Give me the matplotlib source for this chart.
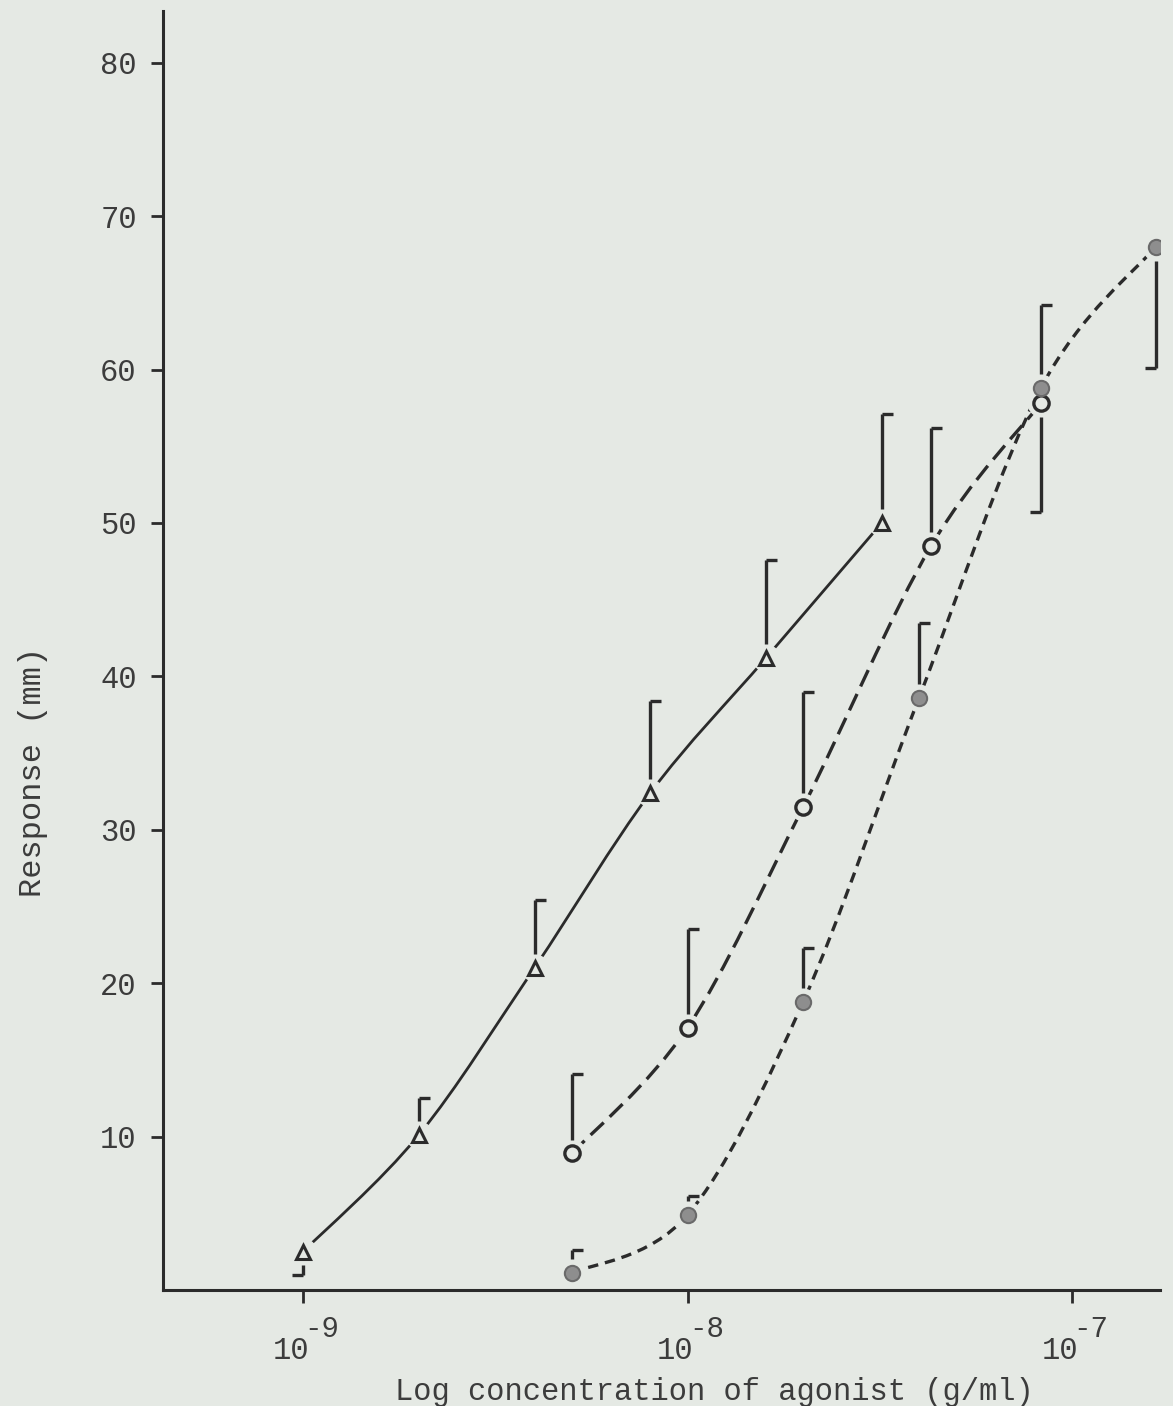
import numpy as np
import matplotlib
matplotlib.use('Agg')
import matplotlib.pyplot as plt
from matplotlib.path import Path
from matplotlib.patches import PathPatch
from matplotlib.ticker import FixedLocator, NullLocator

# values
# triangles, solid curve
conc_tri = [1e-9, 2e-9, 4e-9, 8e-9, 1.6e-8, 3.2e-8]
resp_tri = [2.5, 10.1, 21.0, 32.4, 41.2, 50.0]
err_tri = [-1.5, 2.4, 4.4, 6.0, 6.4, 7.1]   # +: bar drawn up, -: bar drawn down

# open circles, long dashes
conc_open = [5e-9, 1e-8, 2e-8, 4.3e-8, 8.3e-8]
resp_open = [8.9, 17.1, 31.5, 48.5, 57.8]
err_open = [5.2, 6.4, 7.5, 7.7, -7.1]

# filled circles, short dashes
conc_fill = [5e-9, 1e-8, 2e-8, 4e-8, 8.3e-8, 1.65e-7]
resp_fill = [1.1, 4.9, 18.8, 38.6, 58.8, 68.0]
err_fill = [1.5, 1.2, 3.5, 4.9, 5.4, -7.9]

yticks = [10, 20, 30, 40, 50, 60, 70, 80]
xticks = [1e-9, 1e-8, 1e-7]
xtick_exps = ['-9', '-8', '-7']

BG = '#e5e9e4'
INK = '#2b2b2b'
TXT = '#3c3c3c'

plt.rcParams['font.family'] = ['Liberation Mono', 'DejaVu Sans Mono']
plt.rcParams['lines.scale_dashes'] = False


def smooth_path(xs, ys):
    # catmull-rom through the points in log-x space, as cubic bezier segments
    lx = np.log10(xs)
    y = np.asarray(ys, float)
    p = np.column_stack([lx, y])
    n = len(p)
    verts = [p[0]]
    codes = [Path.MOVETO]
    for i in range(n - 1):
        p0 = p[i - 1] if i > 0 else p[i]
        p1 = p[i]
        p2 = p[i + 1]
        p3 = p[i + 2] if i + 2 < n else p[i + 1]
        c1 = p1 + (p2 - p0) / 6.0
        c2 = p2 - (p3 - p1) / 6.0
        verts += [c1, c2, p2]
        codes += [Path.CURVE4] * 3
    verts = np.array(verts)
    verts[:, 0] = 10 ** verts[:, 0]
    return Path(verts, codes)


tick_r = Path([[0, 0], [1, 0]], [Path.MOVETO, Path.LINETO])
tick_l = Path([[0, 0], [-1, 0]], [Path.MOVETO, Path.LINETO])


def error_bars(ax, xs, ys, errs, gap=0.9):
    for x, y, e in zip(xs, ys, errs):
        s = 1 if e > 0 else -1
        ax.vlines(x, y + s * gap, y + e, color=INK, lw=2.4, zorder=5)
        ax.plot([x], [y + e], marker=tick_r if s > 0 else tick_l, ms=16,
                mew=2.4, color=INK, ls='none', zorder=5)


fig = plt.figure(figsize=(11.73, 14.06), dpi=100, facecolor=BG)
ax = fig.add_axes([0.139, 0.0825, 0.85, 0.910])
ax.set_facecolor(BG)
ax.set_xscale('log')
ax.set_xlim(10 ** -9.364, 10 ** -6.771)
ax.set_ylim(0, 83.4)

# curves
ax.add_patch(PathPatch(smooth_path(conc_tri, resp_tri), fill=False,
                       ec=INK, lw=2.0, zorder=2))
ax.add_patch(PathPatch(smooth_path(conc_open, resp_open), fill=False,
                       ec=INK, lw=2.4, ls=(0, (13, 6)), zorder=2))
ax.add_patch(PathPatch(smooth_path(conc_fill, resp_fill), fill=False,
                       ec=INK, lw=2.4, ls=(0, (7.5, 5)), zorder=2))

# small clear halo so the curves stop short of the symbols
for xs, ys in [(conc_tri, resp_tri), (conc_open, resp_open), (conc_fill, resp_fill)]:
    ax.plot(xs, ys, 'o', ms=19, color=BG, ls='none', zorder=3)

ax.plot(conc_tri, resp_tri, '^', ms=10, mfc='none', mec=INK, mew=2.2, ls='none', zorder=4)
ax.plot(conc_open, resp_open, 'o', ms=11, mfc=BG, mec=INK, mew=2.4, ls='none', zorder=4)
ax.plot(conc_fill, resp_fill, 'o', ms=11, mfc='#8e8e8e', mec='#6a6a6a', mew=1.5, ls='none', zorder=4)

error_bars(ax, conc_tri, resp_tri, err_tri)
error_bars(ax, conc_open, resp_open, err_open)
error_bars(ax, conc_fill, resp_fill, err_fill)

# axes
for side in ['top', 'right']:
    ax.spines[side].set_visible(False)
for side in ['left', 'bottom']:
    ax.spines[side].set_linewidth(2.2)
    ax.spines[side].set_color(INK)

ax.yaxis.set_major_locator(FixedLocator(yticks))
ax.xaxis.set_major_locator(FixedLocator(xticks))
ax.xaxis.set_minor_locator(NullLocator())
ax.set_xticklabels([])
ax.tick_params(axis='y', direction='out', length=9, width=2, colors=INK,
               labelsize=22, pad=10, labelcolor=TXT)
ax.tick_params(axis='x', direction='out', length=9, width=2, colors=INK)

# typewriter style tick labels: "10" with a raised exponent
for t, ex in zip(xticks, xtick_exps):
    ax.annotate('10', xy=(t, 0), xycoords=('data', 'axes fraction'),
                xytext=(-9, -50), textcoords='offset points',
                ha='center', va='baseline', fontsize=22, color=TXT)
    ax.annotate(ex, xy=(t, 0), xycoords=('data', 'axes fraction'),
                xytext=(1, -34), textcoords='offset points',
                ha='left', va='baseline', fontsize=21, color=TXT)

ax.set_xlabel('Log concentration of agonist (g/ml)', fontsize=22, color=TXT)
ax.xaxis.set_label_coords(0.553, -0.068)
ax.set_ylabel('Response (mm)', fontsize=23, color=TXT)
ax.yaxis.set_label_coords(-0.115, 0.405)

fig.savefig('out.png', dpi=100, facecolor=BG)
